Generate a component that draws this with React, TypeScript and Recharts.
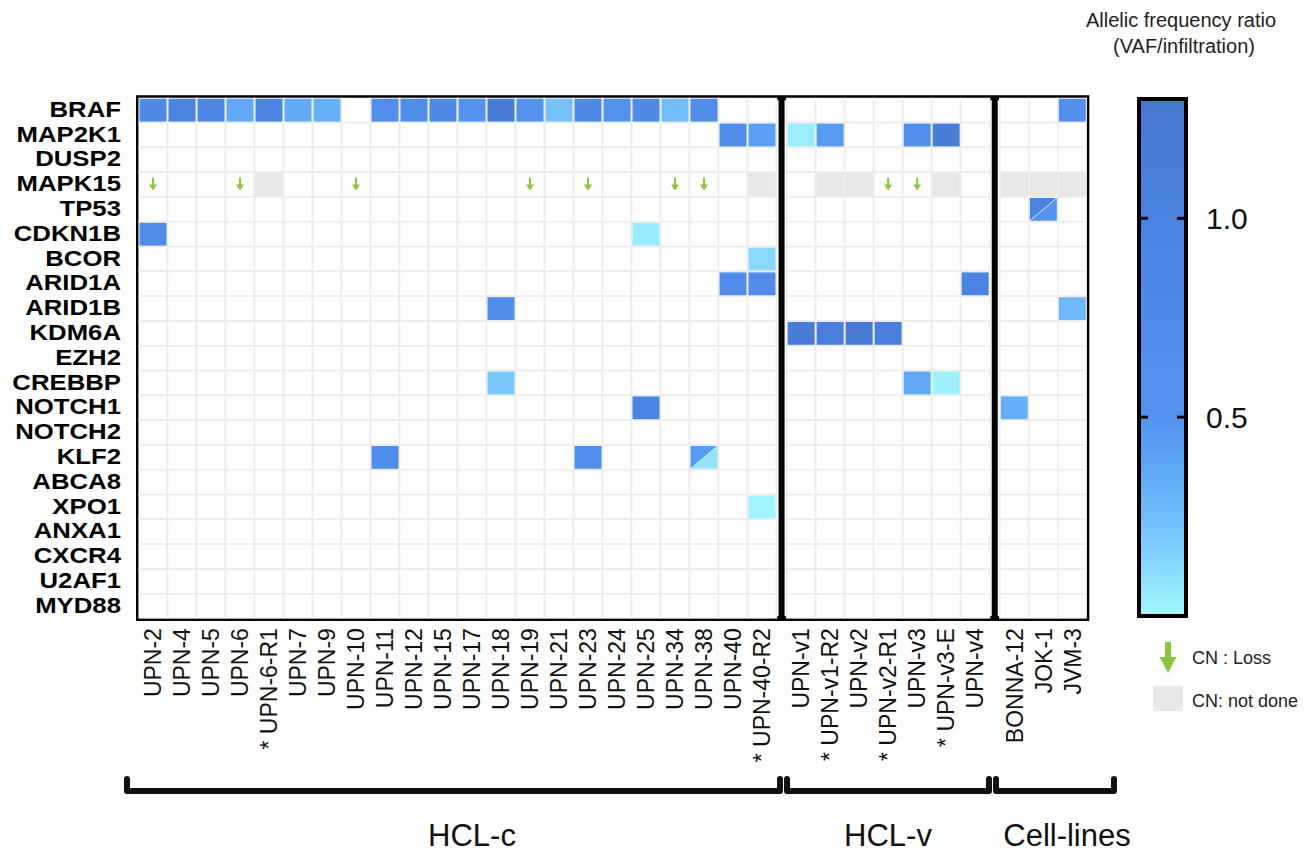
import React from 'react';
import { ScatterChart, Scatter, XAxis, YAxis, ReferenceLine, ReferenceArea } from 'recharts';

// ---- data ----
const genes = [
  'BRAF', 'MAP2K1', 'DUSP2', 'MAPK15', 'TP53', 'CDKN1B', 'BCOR', 'ARID1A', 'ARID1B', 'KDM6A', 'EZH2',
  'CREBBP', 'NOTCH1', 'NOTCH2', 'KLF2', 'ABCA8', 'XPO1', 'ANXA1', 'CXCR4', 'U2AF1', 'MYD88',
];

const hclC = [
  'UPN-2', 'UPN-4', 'UPN-5', 'UPN-6', 'UPN-6-R1', 'UPN-7', 'UPN-9', 'UPN-10', 'UPN-11', 'UPN-12', 'UPN-15',
  'UPN-17', 'UPN-18', 'UPN-19', 'UPN-21', 'UPN-23', 'UPN-24', 'UPN-25', 'UPN-34', 'UPN-38', 'UPN-40', 'UPN-40-R2',
];
const hclV = ['UPN-v1', 'UPN-v1-R2', 'UPN-v2', 'UPN-v2-R1', 'UPN-v3', 'UPN-v3-E', 'UPN-v4'];
const cellLines = ['BONNA-12', 'JOK-1', 'JVM-3'];

// samples marked with an asterisk in the labels
const starred = ['UPN-6-R1', 'UPN-40-R2', 'UPN-v1-R2', 'UPN-v2-R1', 'UPN-v3-E'];

// allelic frequency ratio (VAF / infiltration)
const vafRatio: [string, string, number][] = [
  ['BRAF', 'UPN-2', 0.75], ['BRAF', 'UPN-4', 0.95], ['BRAF', 'UPN-5', 0.8], ['BRAF', 'UPN-6', 0.36],
  ['BRAF', 'UPN-6-R1', 0.95], ['BRAF', 'UPN-7', 0.35], ['BRAF', 'UPN-9', 0.32], ['BRAF', 'UPN-11', 0.62],
  ['BRAF', 'UPN-12', 0.7], ['BRAF', 'UPN-15', 0.75], ['BRAF', 'UPN-17', 0.52], ['BRAF', 'UPN-18', 1.2],
  ['BRAF', 'UPN-19', 0.55], ['BRAF', 'UPN-21', 0.22], ['BRAF', 'UPN-23', 0.75], ['BRAF', 'UPN-24', 0.6],
  ['BRAF', 'UPN-25', 0.75], ['BRAF', 'UPN-34', 0.24], ['BRAF', 'UPN-38', 0.7], ['BRAF', 'JVM-3', 0.62],
  ['MAP2K1', 'UPN-40', 0.7], ['MAP2K1', 'UPN-40-R2', 0.42], ['MAP2K1', 'UPN-v1', 0.04], ['MAP2K1', 'UPN-v1-R2', 0.45],
  ['MAP2K1', 'UPN-v3', 0.62], ['MAP2K1', 'UPN-v3-E', 1.15],
  ['CDKN1B', 'UPN-2', 0.7], ['CDKN1B', 'UPN-25', 0.05],
  ['BCOR', 'UPN-40-R2', 0.12],
  ['ARID1A', 'UPN-40', 0.72], ['ARID1A', 'UPN-40-R2', 0.72], ['ARID1A', 'UPN-v4', 0.95],
  ['ARID1B', 'UPN-18', 0.7], ['ARID1B', 'JVM-3', 0.26],
  ['KDM6A', 'UPN-v1', 1.15], ['KDM6A', 'UPN-v1-R2', 1.1], ['KDM6A', 'UPN-v2', 1.25], ['KDM6A', 'UPN-v2-R1', 1.1],
  ['CREBBP', 'UPN-18', 0.2], ['CREBBP', 'UPN-v3', 0.36], ['CREBBP', 'UPN-v3-E', 0.03],
  ['NOTCH1', 'UPN-25', 0.95], ['NOTCH1', 'BONNA-12', 0.33],
  ['KLF2', 'UPN-11', 0.7], ['KLF2', 'UPN-23', 0.62],
  ['XPO1', 'UPN-40-R2', 0.02],
];

// cells holding two mutations: upper-left ratio, lower-right ratio
const splitCells: [string, string, number, number][] = [
  ['TP53', 'JOK-1', 0.95, 0.55],
  ['KLF2', 'UPN-38', 0.45, 0.08],
];

const cnLoss: [string, string][] = [
  ['MAPK15', 'UPN-2'], ['MAPK15', 'UPN-6'], ['MAPK15', 'UPN-10'], ['MAPK15', 'UPN-19'], ['MAPK15', 'UPN-23'],
  ['MAPK15', 'UPN-34'], ['MAPK15', 'UPN-38'], ['MAPK15', 'UPN-v2-R1'], ['MAPK15', 'UPN-v3'],
];

const cnNotDone: [string, string][] = [
  ['MAPK15', 'UPN-6-R1'], ['MAPK15', 'UPN-40-R2'], ['MAPK15', 'UPN-v1-R2'], ['MAPK15', 'UPN-v2'],
  ['MAPK15', 'UPN-v3-E'], ['MAPK15', 'BONNA-12'], ['MAPK15', 'JOK-1'], ['MAPK15', 'JVM-3'],
];

const scaleTicks = [0.5, 1.0];
const scaleMax = 1.3;

// ---- styles / layout ----
const FONT = '"Liberation Sans", Arial, Helvetica, sans-serif';
const rampStops: [number, string][] = [
  [0, '#a4f8ff'], [0.12, '#8ad9fd'], [0.25, '#70bbfa'], [0.4, '#5ca2f4'], [0.5, '#5494f0'],
  [0.75, '#4f8ae8'], [1.0, '#4b82df'], [1.3, '#4677cf'],
];
const GAP = 0.35;
const X_MIN = -0.5;
const X_MAX = hclC.length + hclV.length + cellLines.length - 0.5 + 2 * GAP;
const CHART_W = 1300;
const CHART_H = 838;
const Y_AXIS_W = 120;
const X_AXIS_H = 180;
const MARGIN = { top: 89.8, right: 221.2, bottom: 47.4, left: 10.5 };
const PLOT_W = CHART_W - MARGIN.left - Y_AXIS_W - MARGIN.right;
const PLOT_H = CHART_H - MARGIN.top - MARGIN.bottom - X_AXIS_H;
const CELL_W = PLOT_W / (X_MAX - X_MIN);
const CELL_H = PLOT_H / genes.length;
const GREEN = '#8cc63f';

const columns = [
  ...hclC.map((name, i) => ({ name, x: i })),
  ...hclV.map((name, i) => ({ name, x: hclC.length + GAP + i })),
  ...cellLines.map((name, i) => ({ name, x: hclC.length + hclV.length + 2 * GAP + i })),
];
const colX = (s: string) => columns.find((c) => c.name === s)!.x;
const rowY = (g: string) => genes.indexOf(g);
const sep1 = hclC.length - 0.5 + GAP / 2;
const sep2 = hclC.length + hclV.length - 0.5 + GAP * 1.5;

function hexToRgb(h: string) {
  return [1, 3, 5].map((i) => parseInt(h.slice(i, i + 2), 16));
}
function rampColor(v: number) {
  for (let i = 1; i < rampStops.length; i++) {
    const [v1, c1] = rampStops[i];
    const [v0, c0] = rampStops[i - 1];
    if (v <= v1 || i === rampStops.length - 1) {
      const t = Math.max(0, Math.min(1, (v - v0) / (v1 - v0)));
      const a = hexToRgb(c0);
      const b = hexToRgb(c1);
      const c = a.map((x, k) => Math.round(x + (b[k] - x) * t));
      return `rgb(${c[0]},${c[1]},${c[2]})`;
    }
  }
  return rampStops[0][1];
}

const backgroundCells = genes.flatMap((g, r) => columns.map((c) => ({ x: c.x, y: r })));
const mutatedCells = vafRatio.map(([g, s, v]) => ({ x: colX(s), y: rowY(g), v }));
const splitData = splitCells.map(([g, s, a, b]) => ({ x: colX(s), y: rowY(g), a, b }));
const lossData = cnLoss.map(([g, s]) => ({ x: colX(s), y: rowY(g) }));
const notDoneData = cnNotDone.map(([g, s]) => ({ x: colX(s), y: rowY(g) }));

// ---- shapes ----
const BackgroundCell = (p: any) => (
  <rect x={p.cx - CELL_W / 2} y={p.cy - CELL_H / 2} width={CELL_W} height={CELL_H} fill="#fff" stroke="#ececec" strokeWidth={1.6} />
);
const NotDoneCell = (p: any) => (
  <rect x={p.cx - CELL_W / 2 + 0.8} y={p.cy - CELL_H / 2 + 0.8} width={CELL_W - 1.6} height={CELL_H - 1.6} fill="#e8e8e8" />
);
const MutatedCell = (p: any) => (
  <rect x={p.cx - CELL_W / 2 + 1} y={p.cy - CELL_H / 2 + 1} width={CELL_W - 2} height={CELL_H - 2} fill={rampColor(p.payload.v)} />
);
const SplitCell = (p: any) => {
  const l = p.cx - CELL_W / 2 + 1;
  const r = p.cx + CELL_W / 2 - 1;
  const t = p.cy - CELL_H / 2 + 1;
  const b = p.cy + CELL_H / 2 - 1;
  return (
    <g>
      <polygon points={`${l},${t} ${r},${t} ${l},${b}`} fill={rampColor(p.payload.a)} />
      <polygon points={`${r},${t} ${r},${b} ${l},${b}`} fill={rampColor(p.payload.b)} />
      <line x1={l} y1={b} x2={r} y2={t} stroke="#cfe6ff" strokeWidth={1} />
    </g>
  );
};
const LossArrow = (p: any) => (
  <g fill={GREEN}>
    <rect x={p.cx - 1} y={p.cy - 7} width={2} height={8} />
    <polygon points={`${p.cx - 4},${p.cy} ${p.cx + 4},${p.cy} ${p.cx},${p.cy + 6}`} />
  </g>
);

// ---- ticks ----
const SampleTick = (p: any) => {
  const col = columns.find((c) => Math.abs(c.x - p.payload.value) < 1e-6);
  const label = col ? (starred.includes(col.name) ? '* ' + col.name : col.name) : '';
  return (
    <text transform={`translate(${p.x},${p.y + 9.5}) rotate(-90)`} textAnchor="end" dy="0.36em" fontSize={23} fontFamily={FONT} fill="#111">
      {label}
    </text>
  );
};
const GeneTick = (p: any) => (
  <text transform={`translate(${p.x - 17.5},${p.y}) scale(1.17,1)`} textAnchor="end" dy="0.3em" fontSize={22} fontWeight="bold" fontFamily={FONT} fill="#000">
    {genes[p.payload.value]}
  </text>
);

// ---- annotations outside the grid (page coordinates) ----
const brackets = [
  { label: 'HCL-c', x1: 127, x2: 780, lx: 472 },
  { label: 'HCL-v', x1: 787, x2: 989, lx: 888 },
  { label: 'Cell-lines', x1: 996, x2: 1114, lx: 1067 },
];
const BAR = { left: 1139, right: 1186, top: 99, bottom: 616 };
const barY = (v: number) => BAR.bottom - (v / scaleMax) * (BAR.bottom - BAR.top);

function Overlay() {
  return (
    <svg width={1315} height={854} style={{ position: 'absolute', left: -8, top: -8, pointerEvents: 'none', overflow: 'visible' }}>
      <defs>
        <linearGradient id="vafRamp" x1="0" y1="1" x2="0" y2="0">
          {rampStops.map(([v, c]) => (
            <stop key={v} offset={v / scaleMax} stopColor={c} />
          ))}
        </linearGradient>
      </defs>
      <g fontFamily={FONT} fill="#222" fontSize={20} textAnchor="middle">
        <text x={1181} y={27}>Allelic frequency ratio</text>
        <text x={1184} y={53}>(VAF/infiltration)</text>
      </g>
      <rect x={BAR.left} y={BAR.top} width={BAR.right - BAR.left} height={BAR.bottom - BAR.top} fill="url(#vafRamp)" stroke="#000" strokeWidth={4} />
      {scaleTicks.map((v) => (
        <g key={v}>
          <line x1={BAR.left} x2={BAR.left + 9} y1={barY(v)} y2={barY(v)} stroke="#000" strokeWidth={3} />
          <line x1={BAR.right - 9} x2={BAR.right} y1={barY(v)} y2={barY(v)} stroke="#000" strokeWidth={3} />
          <text x={1206} y={barY(v)} dy="0.36em" fontSize={30} fontFamily={FONT} fill="#111">
            {v.toFixed(1)}
          </text>
        </g>
      ))}
      <g fill={GREEN}>
        <rect x={1165} y={642} width={6} height={18} />
        <polygon points="1159.5,657 1176.5,657 1168,673" />
      </g>
      <text x={1192} y={664} fontSize={18} fontFamily={FONT} fill="#222">CN : Loss</text>
      <rect x={1153} y={686} width={30} height={25} fill="#e8e8e8" />
      <text x={1192} y={707} fontSize={18} fontFamily={FONT} fill="#222">CN: not done</text>
      {brackets.map((b) => (
        <g key={b.label}>
          <path d={`M${b.x1},779 L${b.x1},791 L${b.x2},791 L${b.x2},779`} fill="none" stroke="#111" strokeWidth={6} strokeLinejoin="round" strokeLinecap="round" />
          <text x={b.lx} y={846} textAnchor="middle" fontSize={31} fontFamily={FONT} fill="#111">
            {b.label}
          </text>
        </g>
      ))}
    </svg>
  );
}

export default function App() {
  return (
    <div style={{ position: 'relative', width: CHART_W, height: 846 }}>
      <ScatterChart width={CHART_W} height={CHART_H} margin={MARGIN}>
        <XAxis
          type="number"
          dataKey="x"
          domain={[X_MIN, X_MAX]}
          allowDataOverflow
          ticks={columns.map((c) => c.x)}
          interval={0}
          tick={<SampleTick />}
          tickSize={0}
          tickMargin={0}
          tickLine={false}
          axisLine={false}
          height={X_AXIS_H}
        />
        <YAxis
          type="number"
          dataKey="y"
          domain={[-0.5, genes.length - 0.5]}
          allowDataOverflow
          reversed
          ticks={genes.map((_, i) => i)}
          interval={0}
          tick={<GeneTick />}
          tickSize={0}
          tickMargin={0}
          tickLine={false}
          axisLine={false}
          width={Y_AXIS_W}
        />
        <Scatter data={backgroundCells} shape={BackgroundCell} isAnimationActive={false} />
        <Scatter data={notDoneData} shape={NotDoneCell} isAnimationActive={false} />
        <Scatter data={mutatedCells} shape={MutatedCell} isAnimationActive={false} />
        <Scatter data={splitData} shape={SplitCell} isAnimationActive={false} />
        <Scatter data={lossData} shape={LossArrow} isAnimationActive={false} />
        <ReferenceLine x={sep1} stroke="#000" strokeWidth={6} ifOverflow="visible" />
        <ReferenceLine x={sep2} stroke="#000" strokeWidth={6} ifOverflow="visible" />
        <ReferenceArea
          x1={X_MIN}
          x2={X_MAX}
          y1={-0.5}
          y2={genes.length - 0.5}
          fill="none"
          stroke="#000"
          strokeWidth={5}
          ifOverflow="visible"
        />
      </ScatterChart>
      <Overlay />
    </div>
  );
}
